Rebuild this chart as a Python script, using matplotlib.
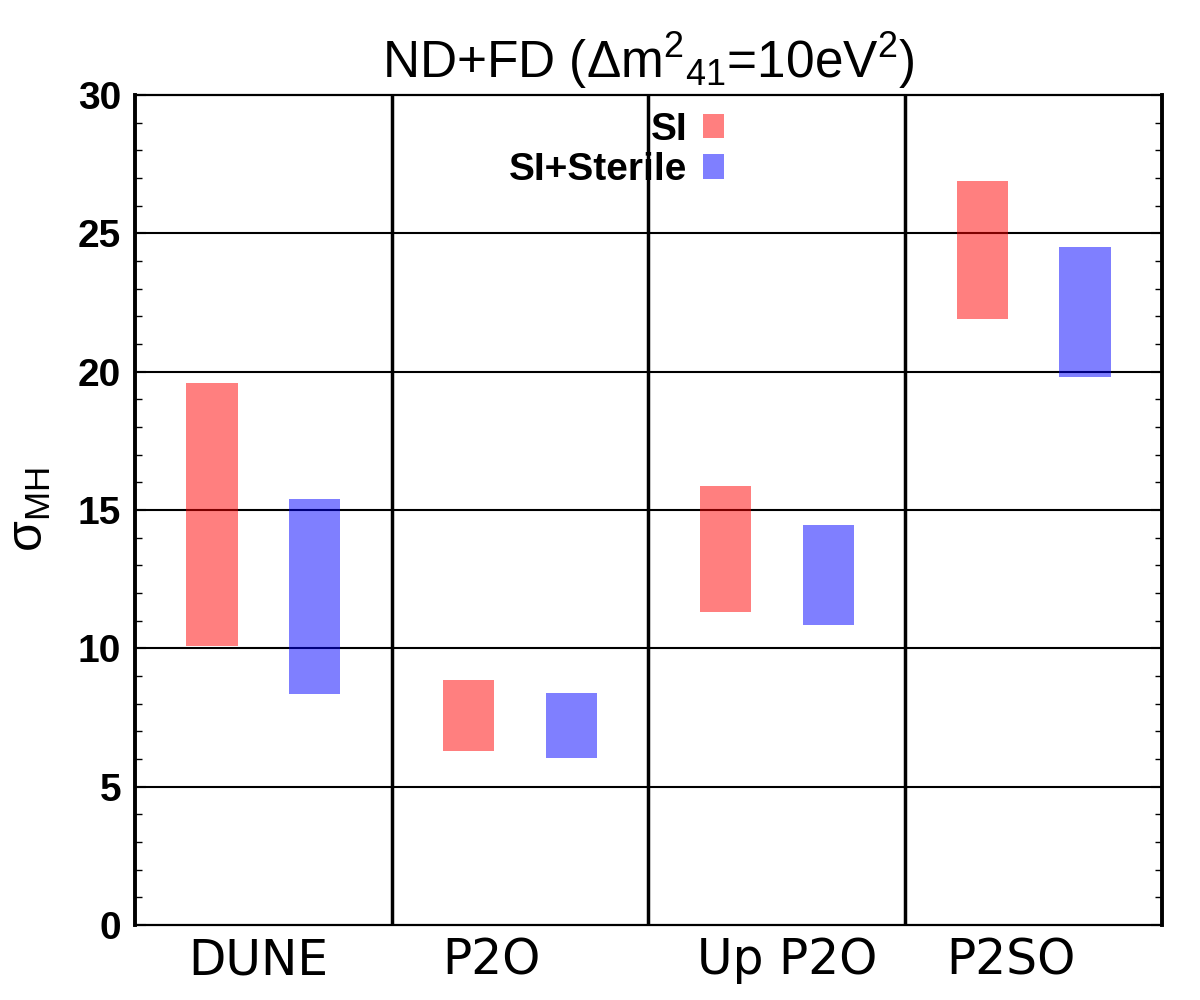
import matplotlib
matplotlib.use("Agg")
import matplotlib.pyplot as plt
import matplotlib.patches as mpatches
import numpy as np

experiments = ["DUNE", "P2O", "Up P2O", "P2SO"]
si_low = [10.1, 6.3, 11.3, 21.9]
si_high = [19.6, 8.85, 15.85, 26.9]
sterile_low = [8.35, 6.05, 10.85, 19.8]
sterile_high = [15.4, 8.4, 14.45, 24.5]
label_pos = [0.48, 1.39, 2.54, 3.41]

plt.rcParams['font.family'] = ['Liberation Sans', 'DejaVu Sans']
plt.rcParams['mathtext.default'] = 'regular'

fig = plt.figure(figsize=(12, 10), dpi=100)
ax = fig.add_axes([0.1125, 0.075, 0.8558, 0.83])

x = np.arange(len(experiments))
width = 0.2

# horizontal grid lines at major ticks
for yv in range(5, 30, 5):
    ax.axhline(yv, color='black', lw=1.5, zorder=1)
# vertical dividers between experiments
for xv in range(1, len(experiments)):
    ax.axvline(xv, color='black', lw=2.5, zorder=1)

si_h = np.array(si_high) - np.array(si_low)
st_h = np.array(sterile_high) - np.array(sterile_low)
ax.bar(x + 0.3, si_h, width, bottom=si_low, color='red', alpha=0.5,
       linewidth=0, zorder=2)
ax.bar(x + 0.7, st_h, width, bottom=sterile_low, color='blue', alpha=0.5,
       linewidth=0, zorder=2)

ax.set_xlim(0, 4)
ax.set_ylim(0, 30)

ax.set_yticks(np.arange(0, 31, 5))
ax.set_yticks(np.arange(0, 31, 1), minor=True)
ax.tick_params(axis='y', which='both', direction='in', left=True, right=True,
               labelsize=28, pad=10)
ax.tick_params(axis='y', which='minor', length=5, width=1)
ax.tick_params(axis='y', which='major', length=8, width=1.5)
for lab in ax.get_yticklabels():
    lab.set_fontweight('bold')

ax.set_xticks(label_pos)
ax.set_xticklabels(experiments, family='DejaVu Sans', fontsize=35)
ax.tick_params(axis='x', length=0, pad=8)

ax.spines['left'].set_linewidth(2.8)
ax.spines['right'].set_linewidth(2.8)
ax.spines['top'].set_linewidth(1.6)
ax.spines['bottom'].set_linewidth(1.6)

ax.set_ylabel(r'σ$_{MH}$', fontsize=36, labelpad=18)
ax.set_title(r'ND+FD (Δm$^{2}$$_{41}$=10eV$^{2}$)', fontsize=37, pad=12)

# legend: label on the left, colour box on the right
handles = [mpatches.Patch(facecolor='red', alpha=0.5, linewidth=0, label='SI'),
           mpatches.Patch(facecolor='blue', alpha=0.5, linewidth=0, label='SI+Sterile')]
leg = ax.legend(handles=handles, loc='upper right', bbox_to_anchor=(0.5735, 0.980),
                frameon=False, markerfirst=False, handlelength=0.55,
                handleheight=0.58, handletextpad=0.4, labelspacing=0.12,
                borderpad=0, borderaxespad=0,
                prop={'weight': 'bold', 'size': 28})
for t in leg.get_texts():
    t.set_ha('right')

fig.savefig('out.png', dpi=100)
